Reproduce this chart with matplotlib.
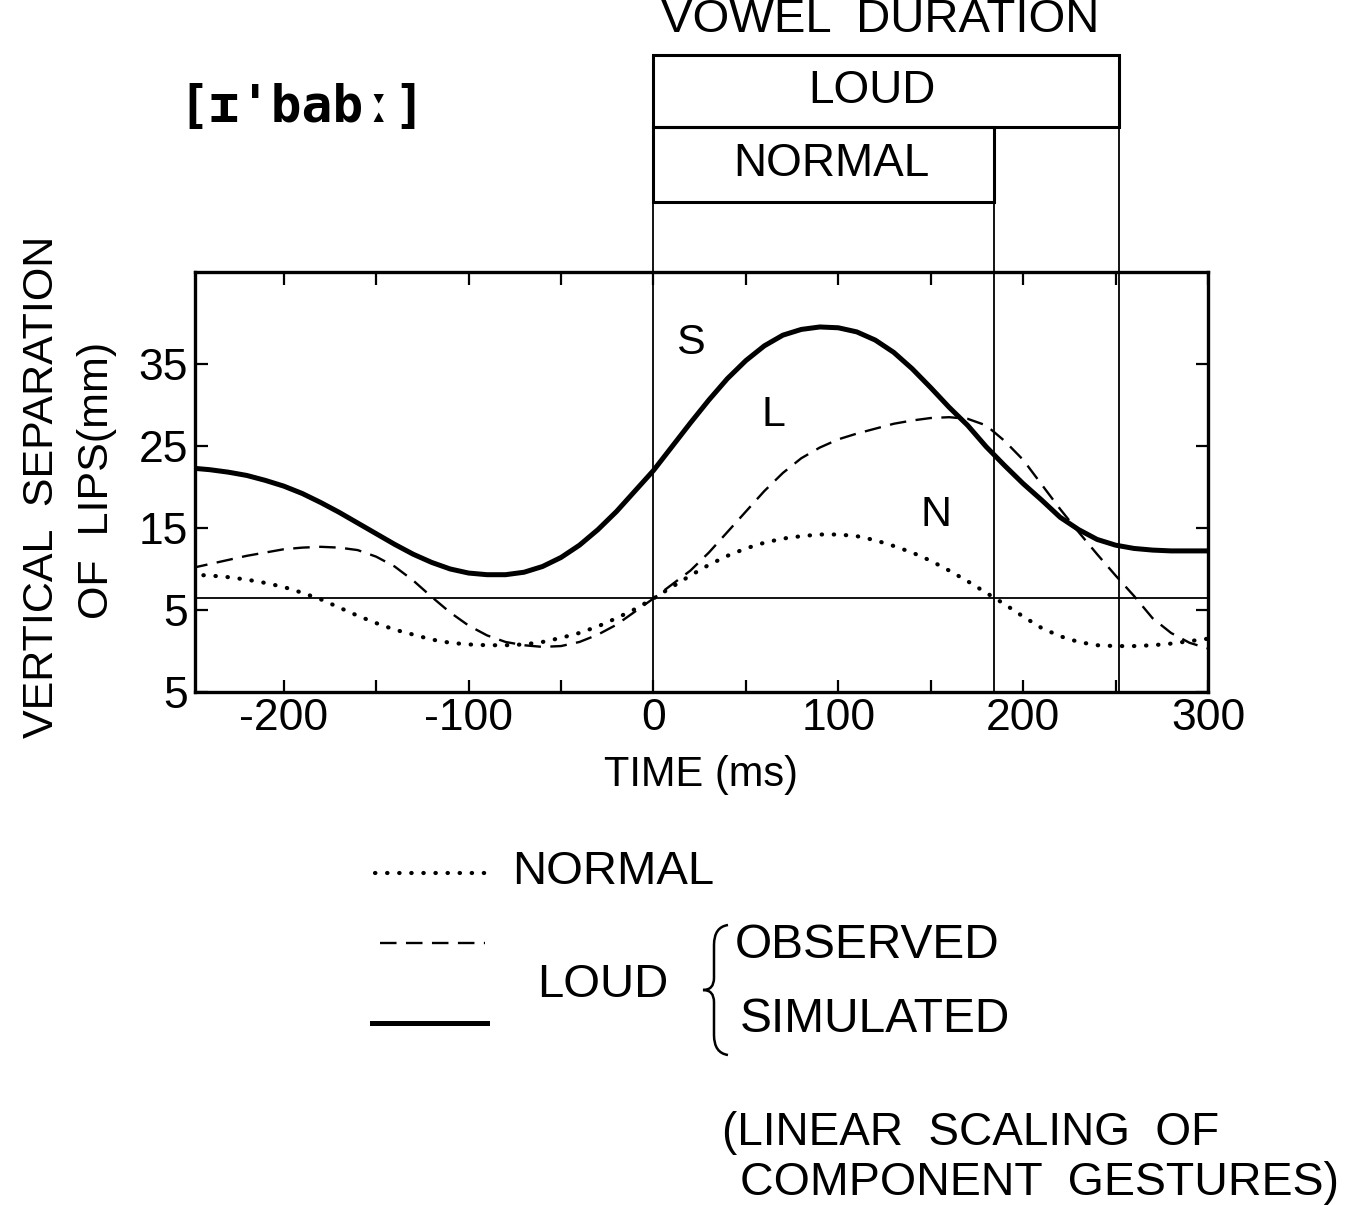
import matplotlib.pyplot as plt
import matplotlib.transforms as mtransforms
from matplotlib.patches import Rectangle, PathPatch
from matplotlib.path import Path

plt.rcParams['font.family'] = ['Liberation Sans', 'DejaVu Sans']
plt.rcParams['axes.unicode_minus'] = False

# time axis (ms), every 10 ms
time_ms = list(range(-250, 301, 10))

# NORMAL (dotted)
normal = [9.3, 9.2, 9.0, 8.7, 8.3, 7.8, 7.1, 6.3, 5.3, 4.3,
          3.4, 2.6, 2.0, 1.4, 1.0, 0.8, 0.7, 0.7, 0.8, 1.1,
          1.6, 2.2, 3.0, 4.0, 5.1, 6.4, 7.8, 9.2, 10.5, 11.6,
          12.5, 13.2, 13.7, 14.0, 14.2, 14.2, 14.0, 13.5, 12.8, 12.0,
          11.0, 9.8, 8.5, 7.1, 5.7, 4.2, 2.8, 1.8, 1.1, 0.7,
          0.6, 0.6, 0.7, 0.9, 1.2, 1.5]

# LOUD observed (dashed)
loud_observed = [10.1, 10.6, 11.1, 11.6, 12.0, 12.4, 12.6, 12.7, 12.6, 12.3,
                 11.5, 10.3, 8.6, 6.6, 4.7, 3.1, 1.9, 1.1, 0.7, 0.5,
                 0.6, 1.1, 2.0, 3.2, 4.8, 6.4, 8.1, 9.8, 12.0, 14.5,
                 17.0, 19.5, 21.7, 23.5, 24.8, 25.8, 26.5, 27.1, 27.7, 28.1,
                 28.4, 28.5, 28.3, 27.5, 25.6, 23.3, 20.3, 17.3, 14.5, 11.8,
                 9.2, 6.7, 4.0, 2.2, 1.0, 0.3]

# LOUD simulated (solid)
loud_simulated = [22.3, 22.1, 21.8, 21.4, 20.8, 20.1, 19.2, 18.1, 16.9, 15.6,
                  14.3, 13.0, 11.8, 10.8, 10.0, 9.5, 9.3, 9.3, 9.6, 10.3,
                  11.4, 12.9, 14.8, 17.0, 19.5, 22.0, 24.9, 27.8, 30.6, 33.2,
                  35.4, 37.2, 38.5, 39.2, 39.5, 39.4, 38.9, 37.9, 36.4, 34.4,
                  32.1, 29.7, 27.5, 24.9, 22.6, 20.4, 18.4, 16.3, 14.8, 13.6,
                  12.9, 12.5, 12.3, 12.2, 12.2, 12.2]

x_ticks = [-200, -100, 0, 100, 200, 300]
x_ticklabels = ['-200', '-100', '0', '100', '200', '300']
x_minor = [-150, -50, 50, 150, 250]
y_ticks = [-5, 5, 15, 25, 35]
y_ticklabels = ['5', '5', '15', '25', '35']

normal_dur = 184
loud_dur = 252
baseline = 6.4

W, H = 1361, 1205
fig = plt.figure(figsize=(W / 100, H / 100), dpi=100)
ax = fig.add_axes([195 / W, 1 - 692 / H, (1208 - 195) / W, 420 / H])

ax.plot(time_ms, loud_simulated, color='black', lw=3.6, solid_capstyle='butt')
ax.plot(time_ms, loud_observed, color='black', lw=1.7, linestyle=(0, (7, 4)))
ax.plot(time_ms, normal, color='black', lw=3, linestyle=(0, (0.1, 2.8)),
        dash_capstyle='round')
ax.axhline(baseline, color='black', lw=1.3)

ax.set_xlim(-248, 300)
ax.set_ylim(-5, 46.2)
ax.set_xticks(x_ticks)
ax.set_xticklabels(x_ticklabels)
ax.set_xticks(x_minor, minor=True)
ax.set_yticks(y_ticks)
ax.set_yticklabels(y_ticklabels)
ax.tick_params(which='both', direction='in', length=9, width=1.6,
               top=True, right=True, labelsize=32, pad=5)
ax.tick_params(axis='x', pad=4)
for s in ax.spines.values():
    s.set_linewidth(2.4)
ax.set_xlabel('TIME (ms)', fontsize=30, labelpad=12)

ax.text(20, 37.6, 'S', fontsize=31, ha='center', va='center')
ax.text(65, 28.8, 'L', fontsize=31, ha='center', va='center')
ax.text(153, 16.6, 'N', fontsize=31, ha='center', va='center')

# vowel duration boxes above the plot
trans = mtransforms.blended_transform_factory(ax.transData, ax.transAxes)
ax.add_patch(Rectangle((0, 1.167), normal_dur, 0.178, transform=trans,
                       fill=False, lw=2.2, clip_on=False))
ax.add_patch(Rectangle((0, 1.345), loud_dur, 0.172, transform=trans,
                       fill=False, lw=2.2, clip_on=False))
for xv, top in [(0, 1.167), (normal_dur, 1.167), (loud_dur, 1.345)]:
    ax.plot([xv, xv], [0, top], transform=trans, color='black', lw=1.3,
            clip_on=False)
ax.text(96, 1.256, 'NORMAL', transform=trans, fontsize=33,
        ha='center', va='center')
ax.text(118, 1.431, 'LOUD', transform=trans, fontsize=33,
        ha='center', va='center')

# overlay in pixel coordinates for the annotations
lay = fig.add_axes([0, 0, 1, 1])
lay.set_xlim(0, W)
lay.set_ylim(H, 0)
lay.axis('off')

lay.text(880, 20, 'VOWEL  DURATION', fontsize=34, ha='center', va='center')
lay.text(302, 108, "[ɪ'babː]", fontsize=37, fontweight='bold',
         family=['DejaVu Sans Mono'], ha='center', va='center')

lay.text(42, 487, 'VERTICAL  SEPARATION', fontsize=31, rotation=90,
         ha='center', va='center')
lay.text(97, 480, 'OF  LIPS(mm)', fontsize=31, rotation=90,
         ha='center', va='center')

# legend
lay.plot([375, 485], [873, 873], color='black', lw=3,
         linestyle=(0, (0.1, 2.8)), dash_capstyle='round')
lay.plot([380, 485], [943, 943], color='black', lw=1.7, linestyle=(0, (7, 4)))
lay.plot([372, 487], [1023, 1023], color='black', lw=3.6)
lay.text(512, 872, 'NORMAL', fontsize=34, ha='left', va='center')
lay.text(537, 985, 'LOUD', fontsize=34, ha='left', va='center')
lay.text(735, 945, 'OBSERVED', fontsize=34.5, ha='left', va='center')
lay.text(740, 1020, 'SIMULATED', fontsize=34.5, ha='left', va='center')

brace = Path([(728, 925), (714, 927), (714, 945),
              (714, 978), (714, 990), (703, 990),
              (714, 990), (714, 1002), (714, 1035),
              (714, 1053), (728, 1055)],
             [Path.MOVETO, Path.CURVE3, Path.CURVE3,
              Path.LINETO, Path.CURVE3, Path.CURVE3,
              Path.CURVE3, Path.CURVE3, Path.LINETO,
              Path.CURVE3, Path.CURVE3])
lay.add_patch(PathPatch(brace, fill=False, lw=1.8, color='black'))

lay.text(722, 1133, '(LINEAR  SCALING  OF', fontsize=33, ha='left', va='center')
lay.text(740, 1183, 'COMPONENT  GESTURES)', fontsize=33.5, ha='left', va='center')

fig.savefig('out.png', dpi=100)
